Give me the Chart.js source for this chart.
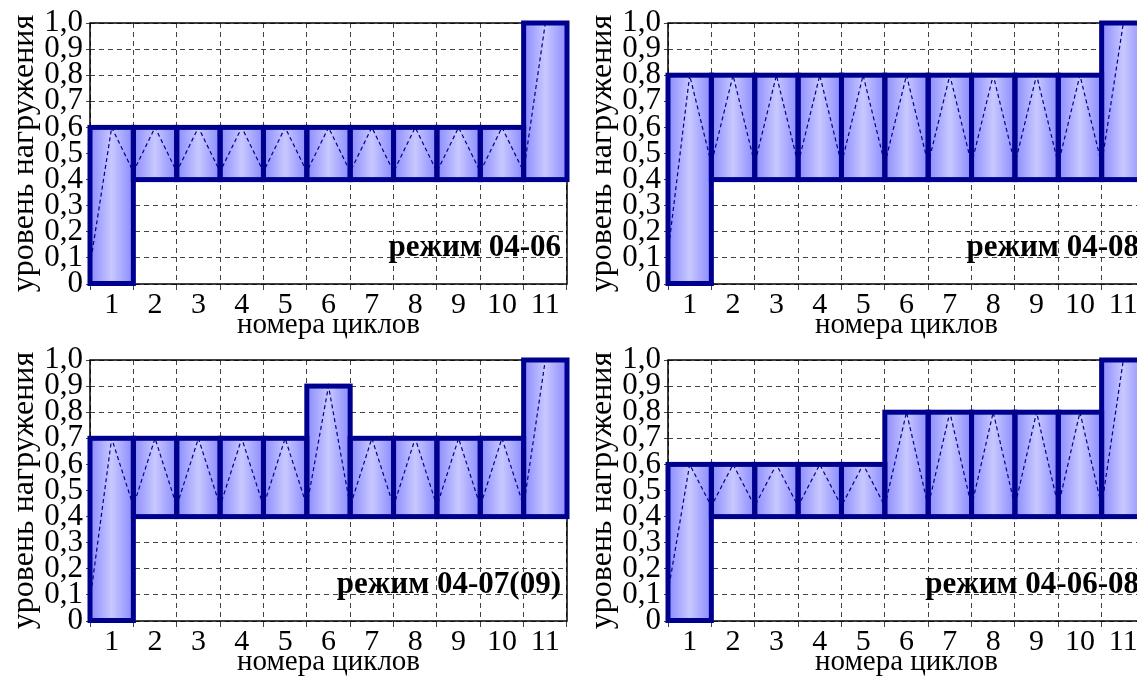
<!DOCTYPE html>
<html>
<head>
<meta charset="utf-8">
<script src="https://cdn.jsdelivr.net/npm/chart.js@4/dist/chart.umd.min.js"></script>
<style>
  html, body { margin: 0; background: #fff; overflow: hidden; width: 1137px; height: 678px; }
  canvas { position: absolute; }
</style>
</head>
<body>
<canvas id="c0406" width="570" height="340" style="left:0;top:0"></canvas>
<canvas id="c0408" width="570" height="340" style="left:578px;top:0"></canvas>
<canvas id="c0407" width="570" height="340" style="left:0;top:337px"></canvas>
<canvas id="c040608" width="570" height="340" style="left:578px;top:337px"></canvas>
<script>
//------------------------------ DATA ---------------------------------//
const cycles = [1, 2, 3, 4, 5, 6, 7, 8, 9, 10, 11];
const yTickValues = [0, 0.1, 0.2, 0.3, 0.4, 0.5, 0.6, 0.7, 0.8, 0.9, 1.0];
const yTickLabels = ['0', '0,1', '0,2', '0,3', '0,4', '0,5', '0,6', '0,7', '0,8', '0,9', '1,0'];

// режим 04-06
const low0406  = [0, 0.4, 0.4, 0.4, 0.4, 0.4, 0.4, 0.4, 0.4, 0.4, 0.4];
const high0406 = [0.6, 0.6, 0.6, 0.6, 0.6, 0.6, 0.6, 0.6, 0.6, 0.6, 1.0];
// режим 04-08
const low0408  = [0, 0.4, 0.4, 0.4, 0.4, 0.4, 0.4, 0.4, 0.4, 0.4, 0.4];
const high0408 = [0.8, 0.8, 0.8, 0.8, 0.8, 0.8, 0.8, 0.8, 0.8, 0.8, 1.0];
// режим 04-07(09)
const low0407  = [0, 0.4, 0.4, 0.4, 0.4, 0.4, 0.4, 0.4, 0.4, 0.4, 0.4];
const high0407 = [0.7, 0.7, 0.7, 0.7, 0.7, 0.9, 0.7, 0.7, 0.7, 0.7, 1.0];
// режим 04-06-08
const low040608  = [0, 0.4, 0.4, 0.4, 0.4, 0.4, 0.4, 0.4, 0.4, 0.4, 0.4];
const high040608 = [0.6, 0.6, 0.6, 0.6, 0.6, 0.8, 0.8, 0.8, 0.8, 0.8, 1.0];

// dashed zig-zag inside the bars: start level and valley level
const zigStart  = [0.07, 0.12, 0.08, 0.11];
const zigValley = [0.43, 0.46, 0.44, 0.44];

const modeLabels = ['режим 04-06', 'режим 04-08', 'режим 04-07(09)', 'режим 04-06-08'];
const yTitle = 'уровень нагружения';
const xTitle = 'номера циклов';

//------------------------------ HELPERS ------------------------------//
const NAVY = '#00008f';
const FONT = '"Liberation Serif", "Times New Roman", serif';

function barGradient(c) {
    const chart = c.chart;
    const xs = chart.scales.x;
    if (c.type !== 'data' || !xs || !chart.chartArea) return '#a8a8ff';
    const cx = xs.getPixelForValue(c.parsed.x);
    const hw = (xs.getPixelForValue(1) - xs.getPixelForValue(0)) / 2;
    const g = chart.ctx.createLinearGradient(cx - hw, 0, cx + hw, 0);
    g.addColorStop(0, '#8a8aff');
    g.addColorStop(0.5, '#c8c8ff');
    g.addColorStop(1, '#8a8aff');
    return g;
}

function zigzag(highs, start, valley) {
    const pts = [];
    cycles.forEach((c, i) => {
        if (i === 0) pts.push({ x: c - 0.5, y: start });
        pts.push({ x: c, y: highs[i] });
        if (i < cycles.length - 1) pts.push({ x: c + 0.5, y: valley });
    });
    return pts;
}

const framePlugin = {
    id: 'frame',
    beforeDatasetsDraw(chart) {
        const a = chart.chartArea, ctx = chart.ctx;
        ctx.save();
        ctx.strokeStyle = '#000';
        ctx.lineWidth = 1.5;
        ctx.strokeRect(a.left, a.top, a.width, a.height);
        ctx.restore();
    },
    afterDatasetsDraw(chart, args, opts) {
        const ctx = chart.ctx, a = chart.chartArea;
        const meta = chart.getDatasetMeta(1);
        ctx.save();
        ctx.strokeStyle = NAVY;
        ctx.lineWidth = 5;
        ctx.lineJoin = 'miter';
        meta.data.forEach(bar => {
            const p = bar.getProps(['x', 'y', 'base', 'width'], true);
            ctx.strokeRect(p.x - p.width / 2, Math.min(p.y, p.base), p.width, Math.abs(p.base - p.y));
        });
        ctx.fillStyle = '#000';
        ctx.font = 'bold 31px ' + FONT;
        ctx.textAlign = 'right';
        ctx.textBaseline = 'alphabetic';
        ctx.fillText(opts.label, a.right - 6, chart.scales.y.getPixelForValue(0.107));
        ctx.restore();
    }
};

function makeChart(id, lows, highs, k) {
    const barData = cycles.map((c, i) => ({ x: c, y: [lows[i], highs[i]] }));
    new Chart(document.getElementById(id), {
        type: 'bar',
        data: {
            datasets: [{
                type: 'line',
                order: 1,
                data: zigzag(highs, zigStart[k], zigValley[k]),
                borderColor: NAVY,
                borderWidth: 1.2,
                borderDash: [4, 3],
                pointRadius: 0,
                fill: false,
                tension: 0
            }, {
                type: 'bar',
                order: 2,
                data: barData,
                backgroundColor: barGradient,
                borderWidth: 0,
                barPercentage: 1,
                categoryPercentage: 1
            }]
        },
        options: {
            responsive: false,
            animation: false,
            layout: { padding: { top: 23, right: 3, left: 0, bottom: 0 } },
            plugins: {
                legend: { display: false },
                tooltip: { enabled: false },
                frame: { label: modeLabels[k] }
            },
            scales: {
                x: {
                    type: 'linear',
                    offset: false,
                    min: 0.5,
                    max: 11.5,
                    afterBuildTicks: s => { s.ticks = cycles.map(v => ({ value: v })); },
                    afterFit: s => { s.height = 56; },
                    ticks: {
                        autoSkip: false,
                        maxRotation: 0,
                        padding: 0,
                        color: '#000',
                        font: { family: FONT, size: 30, lineHeight: 1 },
                        callback: v => String(v)
                    },
                    grid: { offset: true, color: '#444', lineWidth: 1, tickLength: 6, tickColor: '#444' },
                    border: { display: false, dash: [5, 4] },
                    title: {
                        display: true,
                        text: xTitle,
                        color: '#000',
                        padding: 0,
                        font: { family: FONT, size: 29, lineHeight: 1 }
                    }
                },
                y: {
                    min: 0,
                    max: 1,
                    afterBuildTicks: s => { s.ticks = yTickValues.map(v => ({ value: v })); },
                    afterFit: s => { s.width = 90; },
                    ticks: {
                        autoSkip: false,
                        padding: 3,
                        color: '#000',
                        font: { family: FONT, size: 31, lineHeight: 1 },
                        callback: (v, i) => yTickLabels[i]
                    },
                    grid: { color: '#444', lineWidth: 1, tickLength: 4, tickColor: '#444' },
                    border: { display: false, dash: [5, 4] },
                    title: {
                        display: true,
                        text: yTitle,
                        color: '#000',
                        padding: { top: 5, bottom: 0 },
                        font: { family: FONT, size: 32, lineHeight: 1.2 }
                    }
                }
            }
        },
        plugins: [framePlugin]
    });
}

//------------------------------ CHARTS -------------------------------//
makeChart('c0406', low0406, high0406, 0);
makeChart('c0408', low0408, high0408, 1);
makeChart('c0407', low0407, high0407, 2);
makeChart('c040608', low040608, high040608, 3);
</script>
</body>
</html>
